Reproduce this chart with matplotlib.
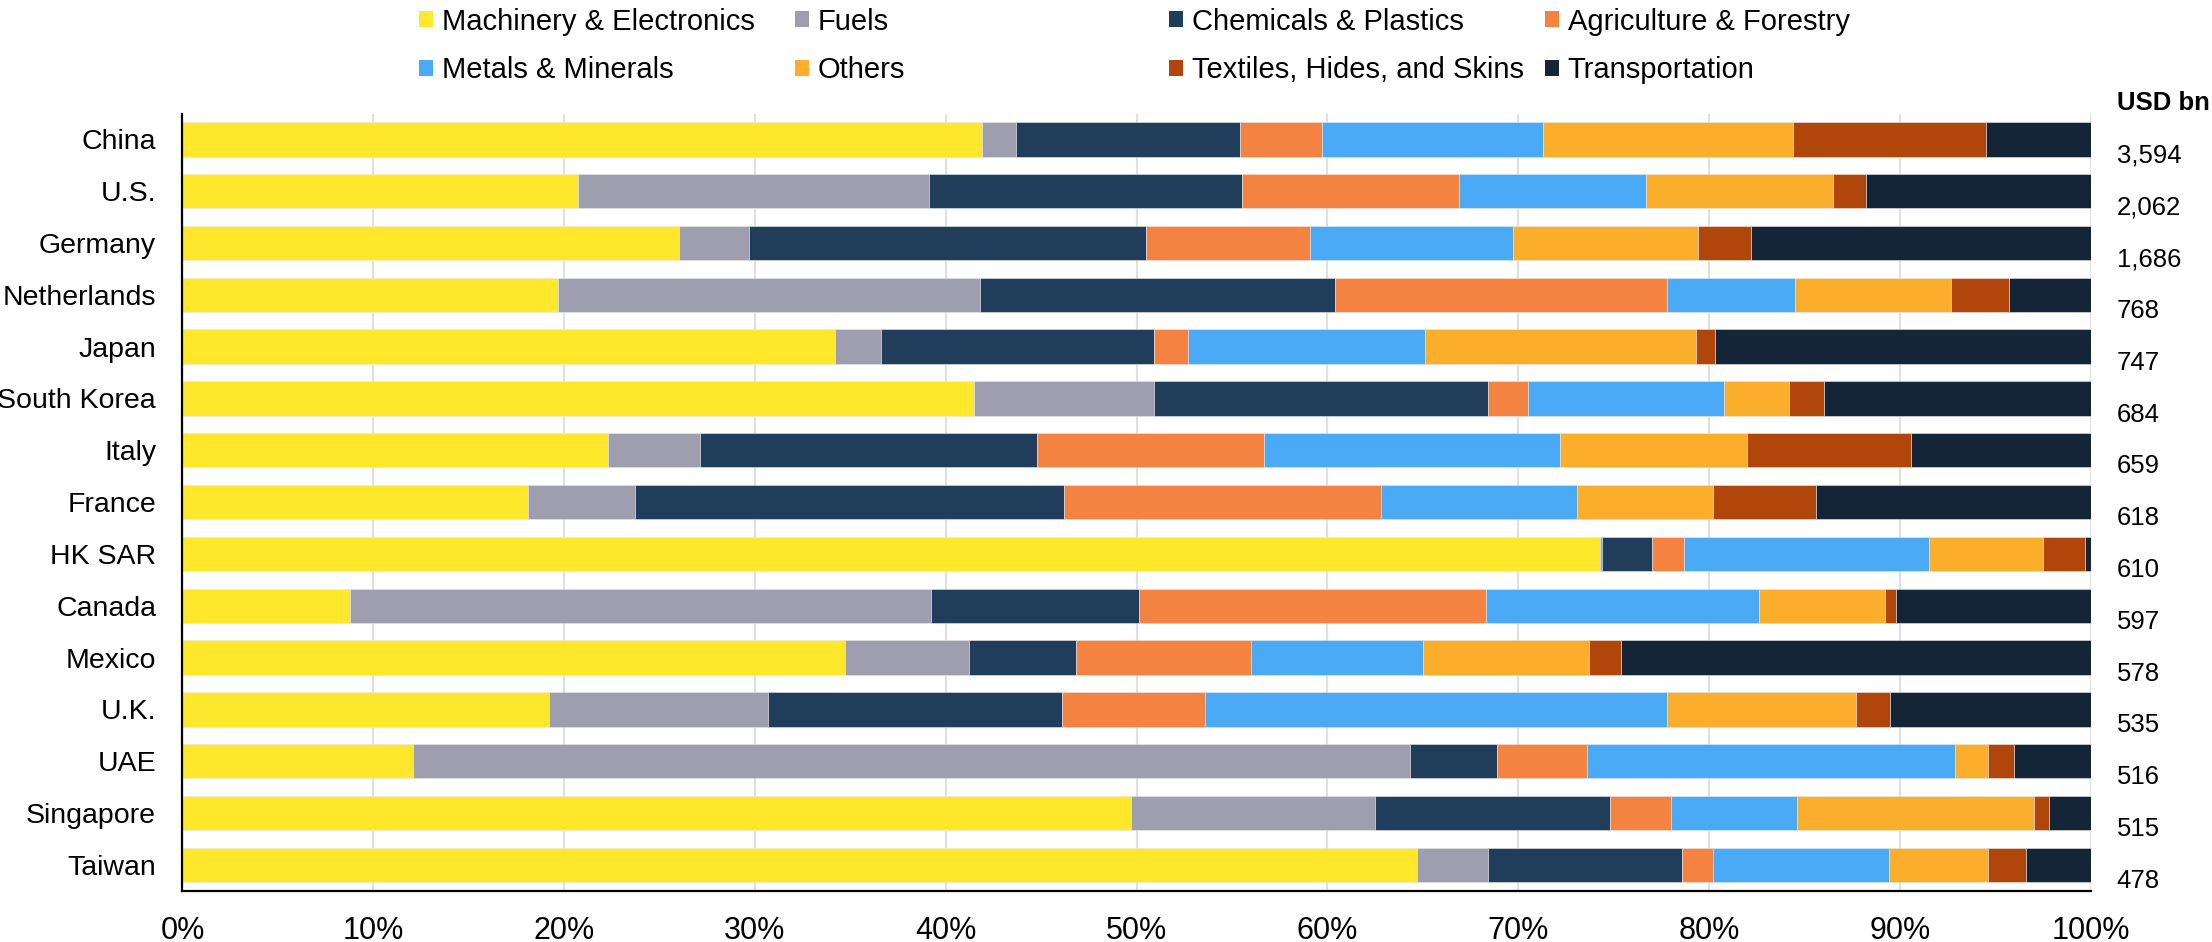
import matplotlib
matplotlib.use('Agg')
import numpy as np
import matplotlib.pyplot as plt
from matplotlib.patches import Patch
from matplotlib.transforms import blended_transform_factory

plt.rcParams['font.family'] = ['Liberation Sans', 'DejaVu Sans']

countries = ['China', 'U.S.', 'Germany', 'Netherlands', 'Japan', 'South Korea', 'Italy',
             'France', 'HK SAR', 'Canada', 'Mexico', 'U.K.', 'UAE', 'Singapore', 'Taiwan']
totals = ['3,594', '2,062', '1,686', '768', '747', '684', '659', '618', '610', '597',
          '578', '535', '516', '515', '478']

categories = ['Machinery & Electronics', 'Fuels', 'Chemicals & Plastics', 'Agriculture & Forestry',
              'Metals & Minerals', 'Others', 'Textiles, Hides, and Skins', 'Transportation']
colors = ['#FFE82B', '#9E9EAE', '#203D5B', '#F48341', '#4BAAF6', '#FBAE2C', '#B1460A', '#142537']

# share of exports by sector, % (rows follow countries)
machinery = [41.9, 20.7, 26.0, 19.7, 34.2, 41.5, 22.3, 18.1, 74.3, 8.8, 34.7, 19.2, 12.1, 49.7, 64.7]
fuels = [1.8, 18.4, 3.7, 22.1, 2.4, 9.4, 4.8, 5.6, 0.1, 30.4, 6.5, 11.5, 52.2, 12.8, 3.7]
chemicals = [11.7, 16.4, 20.8, 18.6, 14.3, 17.5, 17.7, 22.5, 2.6, 10.9, 5.6, 15.4, 4.6, 12.3, 10.2]
agriculture = [4.3, 11.4, 8.6, 17.4, 1.8, 2.1, 11.9, 16.6, 1.7, 18.2, 9.2, 7.5, 4.7, 3.2, 1.6]
metals = [11.6, 9.8, 10.6, 6.7, 12.4, 10.3, 15.5, 10.3, 12.8, 14.3, 9.0, 24.2, 19.3, 6.6, 9.2]
others = [13.1, 9.8, 9.7, 8.2, 14.2, 3.4, 9.8, 7.1, 6.0, 6.6, 8.7, 9.9, 1.7, 12.4, 5.2]
textiles = [10.1, 1.7, 2.8, 3.0, 1.0, 1.8, 8.6, 5.4, 2.2, 0.6, 1.7, 1.8, 1.4, 0.8, 2.0]
transport = [5.5, 11.8, 17.8, 4.3, 19.7, 14.0, 9.4, 14.4, 0.3, 10.2, 24.6, 10.5, 4.0, 2.2, 3.4]
series = [machinery, fuels, chemicals, agriculture, metals, others, textiles, transport]

fig = plt.figure(figsize=(22.12, 9.42), dpi=100)
ax = fig.add_axes([0.0825, 0.0545, 0.8627, 0.825])

y = np.arange(len(countries))
left = np.zeros(len(countries))
for vals, col, name in zip(series, colors, categories):
    ax.barh(y, vals, left=left, height=0.664, color=col, edgecolor='#e8e8e8',
            linewidth=0.4, label=name, zorder=3)
    left += np.array(vals)

ax.set_xlim(0, 100)
ax.set_ylim(14.5, -0.5)
ax.set_xticks(np.arange(0, 101, 10))
ax.set_xticklabels([f'{v}%' for v in range(0, 101, 10)])
ax.set_yticks(y)
ax.set_yticklabels(countries)
ax.grid(axis='x', color='#e0e0e0', linewidth=1.5, zorder=0)
ax.set_axisbelow(True)
ax.tick_params(axis='both', length=0, colors='black')
ax.tick_params(axis='x', pad=18, labelsize=22)
ax.tick_params(axis='y', pad=19, labelsize=20.5)
for s in ['top', 'right']:
    ax.spines[s].set_visible(False)
for s in ['left', 'bottom']:
    ax.spines[s].set_linewidth(1.6)
    ax.spines[s].set_color('black')
    ax.spines[s].set_zorder(4)

# totals column on the right
tr = blended_transform_factory(ax.transAxes, ax.transData)
ax.text(1.0136, -0.70, 'USD bn', transform=tr, fontsize=18.5, fontweight='bold',
        ha='left', va='center', clip_on=False)
for i, t in enumerate(totals):
    ax.text(1.0136, i + 0.31, t, transform=tr, fontsize=18.5, ha='left', va='center',
            clip_on=False)

# legend: four columns of two entries each
handles = [Patch(facecolor=c, edgecolor='none') for c in colors]
cols = [(0, 4), (1, 5), (2, 6), (3, 7)]
col_x = [419, 795, 1169, 1545]
for (a, b), x in zip(cols, col_x):
    fig.legend([handles[a], handles[b]], [categories[a], categories[b]],
               loc='center left', bbox_to_anchor=(x / 2212, 1 - 46 / 942),
               frameon=False, fontsize=21, handlelength=0.48, handleheight=0.5,
               handletextpad=0.3, labelspacing=0.72, borderpad=0, borderaxespad=0)

fig.savefig('out.png', dpi=100)
